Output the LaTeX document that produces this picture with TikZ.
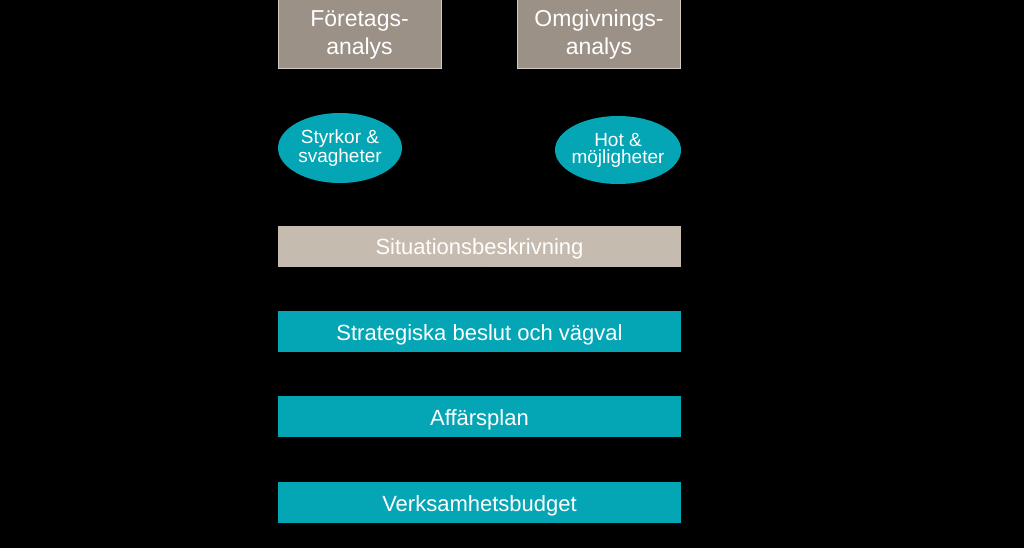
\documentclass[tikz,border=0pt]{standalone}
\usepackage{fontspec}
\setmainfont{Liberation Sans}
\usetikzlibrary{shapes.geometric,arrows.meta}
\definecolor{boxgray}{HTML}{9B9187}
\definecolor{boxedge}{HTML}{D2CAC2}
\definecolor{sitfill}{HTML}{C5BBAE}
\definecolor{tealc}{HTML}{04A5B5}
\begin{document}
\begin{tikzpicture}[x=1pt,y=-1pt,
  anabox/.style={draw=boxedge,line width=1pt,fill=boxgray,text=white,minimum width=163pt,minimum height=69pt,align=center,inner sep=0pt,font=\fontsize{23}{28}\selectfont},
  oval/.style={ellipse,fill=tealc,text=white,align=center,inner sep=-4pt,font=\fontsize{19}{17}\selectfont},
  bar/.style={fill=#1,text=white,minimum width=403pt,minimum height=41pt,inner sep=0pt,text height=19pt,text depth=2pt,font=\fontsize{22}{26}\selectfont},
  conn/.style={draw=black,line width=2pt,-{Triangle[length=8pt,width=8pt]}}]
\fill[black] (0,0) rectangle (1024,548);
\useasboundingbox (0,0) rectangle (1024,548);
\node[anabox] (fa) at (359.5,34.5) {\raisebox{-4pt}{\begin{tabular}{@{}c@{}}Företags-\\analys\end{tabular}}};
\node[anabox] (oa) at (599,34.5) {\raisebox{-4pt}{\begin{tabular}{@{}c@{}}Omgivnings-\\analys\end{tabular}}};
\node[oval,minimum width=124pt,minimum height=70pt] (sw) at (340,148) {Styrkor \&\\svagheter};
\node[oval,minimum width=126pt,minimum height=68pt] (ot) at (618,150) {Hot \&\\möjligheter};
\node[bar=sitfill] (sit) at (479.5,246) {Situationsbeskrivning};
\node[bar=tealc] (str) at (479.5,331.5) {Strategiska beslut och vägval};
\node[bar=tealc] (aff) at (479.5,416.5) {Affärsplan};
\node[bar=tealc] (vb) at (479.5,502.5) {Verksamhetsbudget};
\draw[conn] (fa) -- (sw);
\draw[conn] (oa) -- (ot);
\draw[conn] (sw) -- (sit.north west -| 450,0);
\draw[conn] (ot) -- (sit.north west -| 538,0);
\draw[conn] (sit) -- (str);
\draw[conn] (str) -- (aff);
\draw[conn] (aff) -- (vb);
\end{tikzpicture}
\end{document}
